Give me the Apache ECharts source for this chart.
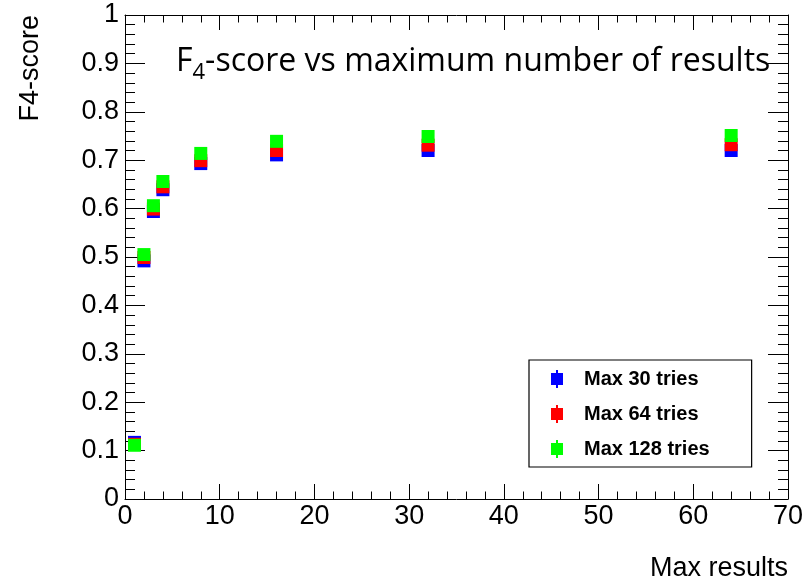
<!DOCTYPE html>
<html>
<head>
<meta charset="utf-8">
<script src="https://cdn.jsdelivr.net/npm/echarts@6/dist/echarts.min.js"></script>
<style>html,body{margin:0;padding:0;background:#fff}#c{width:811px;height:580px}</style>
</head>
<body>
<div id="c"></div>
<script>
var maxResults = [1, 2, 3, 4, 8, 16, 32, 64];
var f4Tries30 = [0.117, 0.492, 0.594, 0.639, 0.693, 0.711, 0.720, 0.720];
var f4Tries64 = [0.113, 0.499, 0.599, 0.645, 0.699, 0.720, 0.731, 0.732];
var f4Tries128 = [0.111, 0.505, 0.606, 0.656, 0.714, 0.739, 0.749, 0.751];
var seriesNames = ['Max 30 tries', 'Max 64 tries', 'Max 128 tries'];
var seriesColors = ['#0000ff', '#ff0000', '#00ff00'];
var xTitle = 'Max results';
var yTitle = 'F4-score';

function pairs(xs, ys) { return xs.map(function (x, i) { return [x, ys[i]]; }); }

var FONT = '"Liberation Sans", Arial, Helvetica, sans-serif';
var chart = echarts.init(document.getElementById('c'), null, {renderer: 'canvas'});
var iconPath = 'path://M5,0H7V3H12V15H7V18H5V15H0V3H5Z';

function mkAxisCommon(len, minorLen) {
  return {
    axisLine: {show: true, onZero: false, lineStyle: {color: '#000', width: 1}},
    axisTick: {show: true, inside: true, length: len, lineStyle: {color: '#000', width: 1}},
    minorTick: {show: true, splitNumber: 5, length: minorLen, lineStyle: {color: '#000', width: 1}},
    splitLine: {show: false},
    minorSplitLine: {show: false}
  };
}

var xBottom = Object.assign(mkAxisCommon(15, 7.5), {
  type: 'value', position: 'bottom', min: 0, max: 70, interval: 10,
  axisLabel: {color: '#000', fontFamily: FONT, fontSize: 27, margin: 4}
});
var xTop = Object.assign(mkAxisCommon(15, 7.5), {
  type: 'value', position: 'top', min: 0, max: 70, interval: 10,
  axisLabel: {show: false}
});
var yLeft = Object.assign(mkAxisCommon(20, 10), {
  type: 'value', position: 'left', min: 0, max: 1, interval: 0.1,
  axisLabel: {color: '#000', fontFamily: FONT, fontSize: 27, margin: 6,
    formatter: function (v) { return String(Math.round(v * 10) / 10); }}
});
var yRight = Object.assign(mkAxisCommon(20, 10), {
  type: 'value', position: 'right', min: 0, max: 1, interval: 0.1,
  axisLabel: {show: false}
});

var data = [f4Tries30, f4Tries64, f4Tries128];
var series = data.map(function (ys, i) {
  return {
    name: seriesNames[i], type: 'scatter', xAxisIndex: 0, yAxisIndex: 0,
    symbol: 'rect', symbolSize: 13, z: 2 + i,
    itemStyle: {color: seriesColors[i], opacity: 1},
    emphasis: {disabled: true},
    data: pairs(maxResults, ys)
  };
});

chart.setOption({
  animation: false,
  backgroundColor: '#fff',
  grid: {left: 125, right: 23, top: 15, bottom: 81, containLabel: false},
  xAxis: [xBottom, xTop],
  yAxis: [yLeft, yRight],
  legend: {
    orient: 'vertical', left: 529, top: 360,
    padding: [9, 42, 8, 22],
    itemWidth: 12, itemHeight: 18, itemGap: 15,
    borderColor: '#000', borderWidth: 1.2, backgroundColor: '#fff',
    data: seriesNames.map(function (n) { return {name: n, icon: iconPath}; }),
    textStyle: {color: '#000', fontFamily: FONT, fontSize: 20, fontWeight: 'bold', padding: [0, 0, 0, 16], lineHeight: 18},
    selectedMode: false
  },
  title: {
    left: 171, top: 35,
    text: '{a|F}{s|4}{a|-score vs maximum number of results}',
    textStyle: {
      fontWeight: 'normal',
      rich: {
        a: {fontFamily: '"Open Sans", sans-serif', fontSize: 32, fontWeight: 'normal', color: '#000', lineHeight: 44, verticalAlign: 'middle'},
        s: {fontFamily: '"Open Sans", sans-serif', fontSize: 22, fontWeight: 'normal', color: '#000', lineHeight: 30, verticalAlign: 'bottom'}
      }
    }
  },
  graphic: [
    {type: 'text', x: 31, y: 15, rotation: Math.PI / 2,
     style: {text: yTitle, fontFamily: FONT, fontSize: 27, fill: '#000', align: 'right', verticalAlign: 'middle'}},
    {type: 'text', x: 788, y: 569,
     style: {text: xTitle, fontFamily: FONT, fontSize: 27, fill: '#000', align: 'right', verticalAlign: 'middle'}}
  ],
  series: series
});
</script>
</body>
</html>
